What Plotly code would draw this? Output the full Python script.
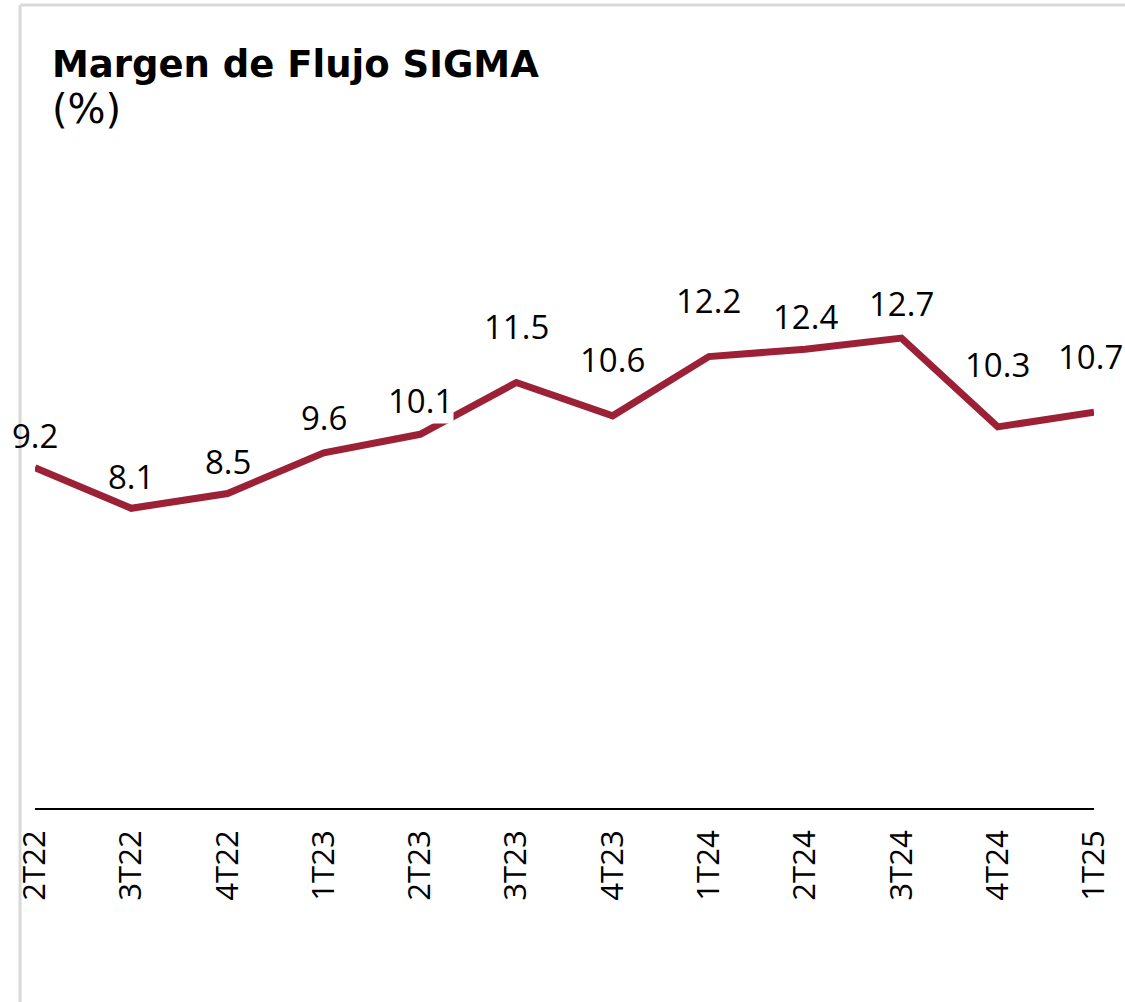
import plotly.graph_objects as go

categories = ["2T22", "3T22", "4T22", "1T23", "2T23", "3T23", "4T23",
              "1T24", "2T24", "3T24", "4T24", "1T25"]
margin_pct = [9.2, 8.1, 8.5, 9.6, 10.1, 11.5, 10.6, 12.2, 12.4, 12.7, 10.3, 10.7]
label_text = ["9.2", "8.1", "8.5", "9.6", "10.1", "11.5", "10.6",
              "12.2", "12.4", "12.7", "10.3", "10.7"]

# label offsets (px) - layout only
label_shift = [32, 32, 32, 35, 34, 56, 56, 56, 33, 35, 62, 56]
label_xshift = [0, 0, 0, 0, 0, 0, 0, 0, 0, 0, 0, -4]
# labels that mask the line behind them (as in the reference)
label_masks = [False, False, False, False, True, False, False,
               False, False, False, False, False]

W, H = 1125, 1002
L, R = 33, 1095
T, B = 68, 808
YMAX = 20

def px_x(px):
    return (px - L) / (R - L)

def px_y(py):
    return (B - py) / (B - T)

fig = go.Figure()
fig.add_trace(go.Scatter(
    x=list(range(len(categories))), y=margin_pct, mode="lines",
    line=dict(color="#9C2136", width=7), hoverinfo="skip", showlegend=False,
    cliponaxis=False,
))

annotations = []
for i, (v, t, s, xs, m) in enumerate(zip(margin_pct, label_text, label_shift,
                                          label_xshift, label_masks)):
    annotations.append(dict(
        x=i, y=v, xref="x", yref="y", text=t, showarrow=False,
        yshift=s, xshift=xs, font=dict(family="Open Sans", size=33, color="#000000"),
        bgcolor="white" if m else "rgba(0,0,0,0)", borderpad=0,
    ))

annotations.append(dict(
    x=px_x(48), y=px_y(41), xref="paper", yref="paper", xanchor="left", yanchor="top",
    text="<b>Margen de Flujo SIGMA</b>", showarrow=False,
    font=dict(family="DejaVu Sans", size=37, color="#000000"), align="left",
))
annotations.append(dict(
    x=px_x(48), y=px_y(84), xref="paper", yref="paper", xanchor="left", yanchor="top",
    text="(%)", showarrow=False,
    font=dict(family="DejaVu Sans", size=40, color="#000000"), align="left",
))

shapes = [
    dict(type="line", xref="paper", yref="paper", x0=px_x(18), x1=px_x(1130),
         y0=px_y(5), y1=px_y(5), line=dict(color="#D9D9D9", width=3)),
    dict(type="line", xref="paper", yref="paper", x0=px_x(18), x1=px_x(18),
         y0=px_y(5), y1=px_y(1010), line=dict(color="#D9D9D9", width=3)),
]

fig.update_layout(
    width=W, height=H, autosize=False,
    margin=dict(l=L, r=W - R, t=T, b=H - B, pad=0),
    paper_bgcolor="white", plot_bgcolor="white",
    annotations=annotations, shapes=shapes,
    xaxis=dict(
        range=[0, len(categories) - 1], tickmode="array",
        tickvals=list(range(len(categories))), ticktext=categories,
        tickangle=-90, showgrid=False, zeroline=False,
        showline=True, linecolor="#000000", linewidth=2, ticks="",
        tickfont=dict(family="Open Sans", size=31, color="#000000"),
        ticklabelstandoff=8,
    ),
    yaxis=dict(range=[0, YMAX], visible=False, showgrid=False, zeroline=False),
)

fig.write_html("out.html", config={"displayModeBar": False},
               post_script="document.body.style.margin='0px';")
